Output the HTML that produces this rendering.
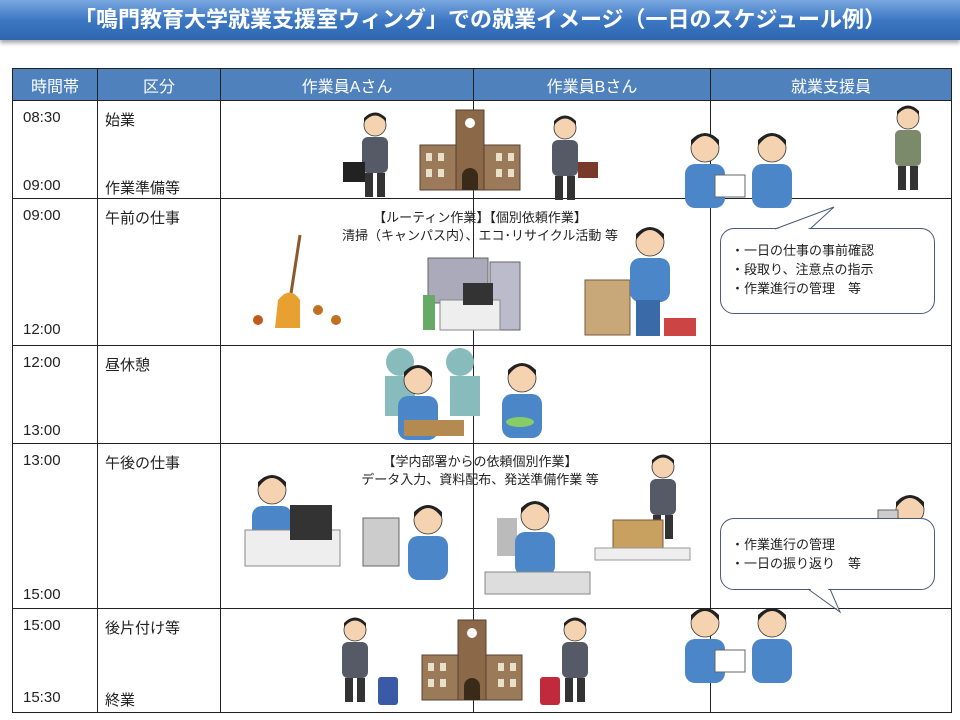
<!DOCTYPE html>
<html><head><meta charset="utf-8"><style>
body{margin:0;width:960px;height:720px;background:#fff;position:relative;overflow:hidden;font-family:"Liberation Sans","Noto Sans CJK JP",sans-serif;}
.title{position:absolute;left:0;top:0;width:960px;height:40px;background:linear-gradient(#7aa7e0,#3d78c4 50%,#2d65b0);box-shadow:0 3px 4px rgba(0,0,0,.35);color:#fff;font-weight:bold;font-size:22px;line-height:40px;text-align:center}
table{position:absolute;left:12px;top:68px;border-collapse:collapse;font-size:15px;color:#222;table-layout:fixed;width:939px}
td{border:1px solid #222;padding:0;vertical-align:top;position:relative}
th{background:#4f81bd;color:#fff;font-weight:normal;font-size:16px;height:32px;padding:0;border:1px solid #222;box-sizing:border-box}
.t{position:absolute;left:10px}
.ab{position:absolute;left:7px}
.bub{position:absolute;border:1px solid #4a5a7a;border-radius:14px;background:#fff;font-size:13px;line-height:19px;padding:8px 10px;box-sizing:border-box;color:#222}
.lab{position:absolute;font-size:13px;color:#222;text-align:center;width:520px;line-height:18px}
svg{position:absolute;left:0;top:0}
</style></head><body>
<div class="title">「鳴門教育大学就業支援室ウィング」での就業イメージ（一日のスケジュール例）</div>
<table>
<colgroup><col style="width:85px"><col style="width:123px"><col style="width:253px"><col style="width:237px"><col style="width:241px"></colgroup>
<tr style="height:32px"><th>時間帯</th><th>区分</th><th>作業員Aさん</th><th>作業員Bさん</th><th>就業支援員</th></tr>
<tr style="height:98px"><td><span class="t" style="top:8px">08:30</span><span class="t" style="top:76px">09:00</span></td><td><span class="ab" style="top:8px">始業</span><span class="ab" style="top:76px">作業準備等</span></td><td></td><td></td><td></td></tr>
<tr style="height:147px"><td><span class="t" style="top:8px">09:00</span><span class="t" style="top:122px">12:00</span></td><td><span class="ab" style="top:8px">午前の仕事</span></td><td></td><td></td><td></td></tr>
<tr style="height:98px"><td><span class="t" style="top:8px">12:00</span><span class="t" style="top:76px">13:00</span></td><td><span class="ab" style="top:8px">昼休憩</span></td><td></td><td></td><td></td></tr>
<tr style="height:165px"><td><span class="t" style="top:8px">13:00</span><span class="t" style="top:142px">15:00</span></td><td><span class="ab" style="top:8px">午後の仕事</span></td><td></td><td></td><td></td></tr>
<tr style="height:104px"><td><span class="t" style="top:8px">15:00</span><span class="t" style="top:80px">15:30</span></td><td><span class="ab" style="top:8px">後片付け等</span><span class="ab" style="top:80px">終業</span></td><td></td><td></td><td></td></tr>
</table>
<svg width="960" height="720">
<defs>
<g id="person"><circle cx="0" cy="0" r="11" fill="#f6d3b0" stroke="#333" stroke-width=".8"/><path d="M-11,-3 Q0,-16 11,-3 L11,-7 Q0,-18 -11,-7Z" fill="#222"/><rect x="-13" y="12" width="26" height="36" rx="6" fill="#555a66"/><rect x="-10" y="48" width="8" height="24" fill="#333"/><rect x="2" y="48" width="8" height="24" fill="#333"/></g>
<g id="worker"><circle cx="0" cy="0" r="14" fill="#f6d3b0" stroke="#333" stroke-width=".8"/><path d="M-14,-2 Q0,-22 14,-2 L14,-8 Q0,-22 -14,-8Z" fill="#222"/><rect x="-20" y="16" width="40" height="44" rx="10" fill="#4a86c8"/></g>
<g id="bldg"><rect x="-50" y="10" width="100" height="45" fill="#9b7a5a" stroke="#5a4030"/><rect x="-14" y="-25" width="28" height="80" fill="#8a6848" stroke="#5a4030"/><circle cx="0" cy="-12" r="5" fill="#fff"/><path d="M-8,55 v-14 a8,8 0 0 1 16,0 v14z" fill="#3a2a1a"/><g fill="#e8e0c8"><rect x="-44" y="18" width="6" height="8"/><rect x="-32" y="18" width="6" height="8"/><rect x="26" y="18" width="6" height="8"/><rect x="38" y="18" width="6" height="8"/><rect x="-44" y="34" width="6" height="8"/><rect x="-32" y="34" width="6" height="8"/><rect x="26" y="34" width="6" height="8"/><rect x="38" y="34" width="6" height="8"/></g></g>
</defs>
<use href="#person" x="375" y="125"/><rect x="343" y="162" width="22" height="20" fill="#222"/>
<use href="#bldg" x="470" y="135"/>
<use href="#person" x="565" y="128"/><rect x="578" y="162" width="20" height="16" fill="#7a3a2a"/>
<use href="#person" x="908" y="118"/><rect x="895" y="130" width="26" height="36" rx="5" fill="#7a8a6a"/>
<use href="#worker" x="705" y="148"/><use href="#worker" x="772" y="148"/><rect x="715" y="175" width="30" height="22" fill="#fff" stroke="#666"/>
<use href="#worker" x="705" y="623"/><use href="#worker" x="772" y="623"/><rect x="715" y="650" width="30" height="22" fill="#fff" stroke="#666"/>
<path d="M300,235 L290,300" stroke="#8a5a2a" stroke-width="3"/><path d="M278,300 Q290,285 300,300 L300,328 L275,328Z" fill="#e8a030"/>
<circle cx="258" cy="320" r="5" fill="#c05a20"/><circle cx="318" cy="310" r="5" fill="#c07020"/><circle cx="336" cy="320" r="5" fill="#c07020"/>
<rect x="428" y="258" width="60" height="45" fill="#aab" stroke="#666"/><rect x="490" y="262" width="30" height="68" fill="#bbc" stroke="#666"/><rect x="440" y="300" width="60" height="30" fill="#eee" stroke="#888"/><rect x="463" y="283" width="30" height="22" fill="#333"/><rect x="423" y="295" width="12" height="35" fill="#6a6"/>
<rect x="585" y="280" width="45" height="55" fill="#c8a878" stroke="#7a5a3a"/><use href="#worker" x="650" y="242"/><rect x="636" y="300" width="24" height="36" fill="#3a6aa8"/><rect x="664" y="318" width="32" height="18" fill="#c44"/>
<circle cx="400" cy="362" r="14" fill="#8bb"/><circle cx="460" cy="362" r="14" fill="#8bb"/><rect x="385" y="376" width="30" height="40" fill="#8bb"/><rect x="450" y="376" width="30" height="40" fill="#8bb"/>
<use href="#worker" x="418" y="380"/><rect x="404" y="420" width="60" height="16" fill="#b58a50"/>
<use href="#worker" x="522" y="378"/><ellipse cx="520" cy="422" rx="14" ry="5" fill="#8c6"/>
<use href="#worker" x="272" y="490"/><rect x="245" y="530" width="95" height="36" fill="#eee" stroke="#888"/><rect x="290" y="505" width="42" height="35" fill="#333"/>
<rect x="363" y="518" width="36" height="48" fill="#ccc" stroke="#666"/><use href="#worker" x="428" y="520"/>
<rect x="497" y="518" width="20" height="38" fill="#bbb"/><use href="#worker" x="535" y="516"/><rect x="485" y="572" width="105" height="22" fill="#ddd" stroke="#888"/>
<use href="#person" x="663" y="467"/><rect x="613" y="520" width="50" height="32" fill="#c8a060" stroke="#7a5a3a"/><rect x="595" y="548" width="95" height="12" fill="#eee" stroke="#999"/>
<use href="#worker" x="910" y="510"/><rect x="878" y="510" width="20" height="26" fill="#ccc" stroke="#666"/>
<use href="#person" x="355" y="630"/><rect x="378" y="677" width="20" height="28" rx="3" fill="#3a5aa8"/>
<use href="#bldg" x="472" y="645"/>
<use href="#person" x="575" y="630"/><rect x="540" y="677" width="20" height="28" rx="3" fill="#c02a3a"/>
</svg>
<div class="lab" style="left:220px;top:209px">【ルーティン作業】【個別依頼作業】<br>清掃（キャンパス内）、エコ･リサイクル活動 等</div>
<div class="lab" style="left:220px;top:453px">【学内部署からの依頼個別作業】<br>データ入力、資料配布、発送準備作業 等</div>
<div class="bub" style="left:720px;top:228px;width:215px;height:86px;padding-top:12px">・一日の仕事の事前確認<br>・段取り、注意点の指示<br>・作業進行の管理　等</div>
<div class="bub" style="left:720px;top:518px;width:215px;height:72px;padding-top:16px">・作業進行の管理<br>・一日の振り返り　等</div>
<svg width="960" height="720"><path d="M777,229 L834,207 L808,229" fill="#fff" stroke="none"/><path d="M775,229 L834,207 L810,229" fill="none" stroke="#4a5a7a"/><path d="M810,589 L840,611 L828,589" fill="#fff"/><path d="M808,589 L840,612 L830,589" fill="none" stroke="#4a5a7a"/></svg>
</body></html>
